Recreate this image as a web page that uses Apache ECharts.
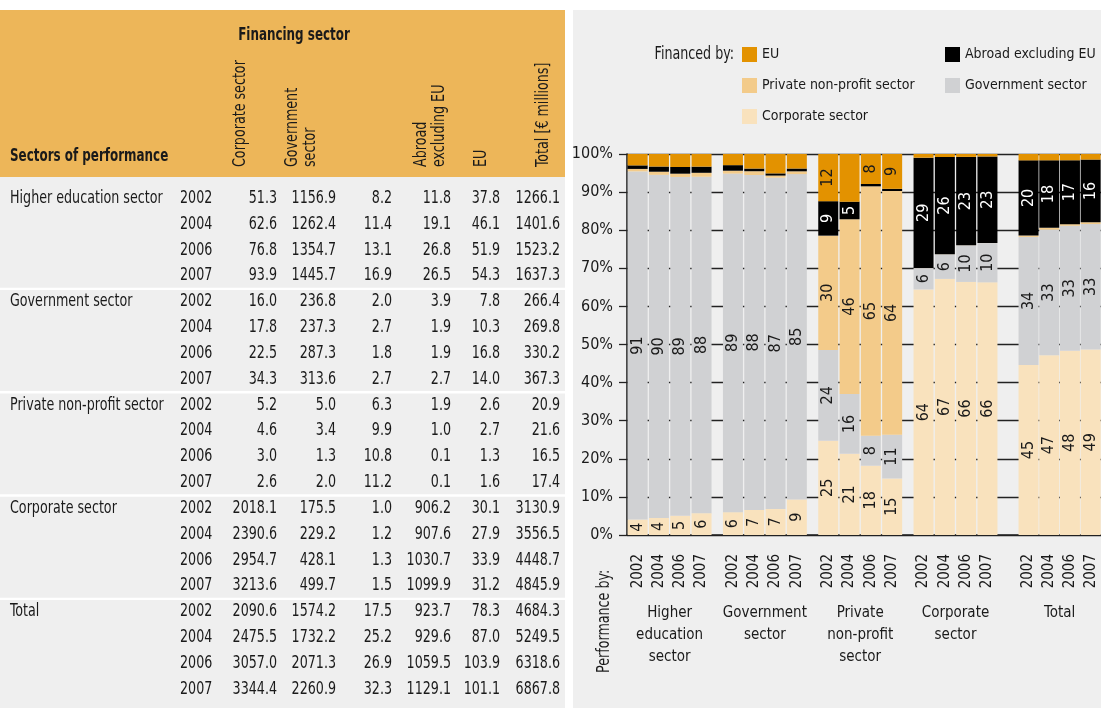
<!DOCTYPE html>
<html>
<head>
<meta charset="utf-8">
<title>R&D financing</title>
<script src="https://cdn.jsdelivr.net/npm/echarts@6/dist/echarts.min.js"></script>
<style>
	html, body { margin: 0; padding: 0; background: #fff; }
	#main { width: 1101px; height: 708px; }
</style>
</head>
<body>
<div id="main"></div>
<script>
// sectors of performance and years (table rows, chart groups)
var sectors = ['Higher education sector', 'Government sector', 'Private non-profit sector', 'Corporate sector', 'Total'];
var sectorAxisNames = ['Higher\neducation\nsector', 'Government\nsector', 'Private\nnon-profit\nsector', 'Corporate\nsector', 'Total'];
var years = ['2002', '2004', '2006', '2007'];

// financing sector values, € millions, 4 years per sector of performance
var corporate = [51.3, 62.6, 76.8, 93.9, 16.0, 17.8, 22.5, 34.3, 5.2, 4.6, 3.0, 2.6,
	2018.1, 2390.6, 2954.7, 3213.6, 2090.6, 2475.5, 3057.0, 3344.4];
var government = [1156.9, 1262.4, 1354.7, 1445.7, 236.8, 237.3, 287.3, 313.6, 5.0, 3.4, 1.3, 2.0,
	175.5, 229.2, 428.1, 499.7, 1574.2, 1732.2, 2071.3, 2260.9];
var privateNonProfit = [8.2, 11.4, 13.1, 16.9, 2.0, 2.7, 1.8, 2.7, 6.3, 9.9, 10.8, 11.2,
	1.0, 1.2, 1.3, 1.5, 17.5, 25.2, 26.9, 32.3];
var abroadExclEU = [11.8, 19.1, 26.8, 26.5, 3.9, 1.9, 1.9, 2.7, 1.9, 1.0, 0.1, 0.1,
	906.2, 907.6, 1030.7, 1099.9, 923.7, 929.6, 1059.5, 1129.1];
var eu = [37.8, 46.1, 51.9, 54.3, 7.8, 10.3, 16.8, 14.0, 2.6, 2.7, 1.3, 1.6,
	30.1, 27.9, 33.9, 31.2, 78.3, 87.0, 103.9, 101.1];
var total = [1266.1, 1401.6, 1523.2, 1637.3, 266.4, 269.8, 330.2, 367.3, 20.9, 21.6, 16.5, 17.4,
	3130.9, 3556.5, 4448.7, 4845.9, 4684.3, 5249.5, 6318.6, 6867.8];

var yTicks = ['0%', '10%', '20%', '30%', '40%', '50%', '60%', '70%', '80%', '90%', '100%'];

// labels left out in the source chart (EU: government 2006, private non-profit 2004)
var unlabeled = [['EU', 6], ['EU', 9]];

var FONT = "'DejaVu Sans Condensed', 'DejaVu Sans', sans-serif";
var INK = '#1a1a1a';

var chart = echarts.init(document.getElementById('main'));

// chart layout: one narrow grid per sector of performance over a shared background grid
var plotLeft = 627, plotTop = 154, plotH = 381, slot = 21.3;
function groupLeft(g) {
	return plotLeft + g * 95.3 + (g === 4 ? 10 : 0);
}

var sums = corporate.map(function(v, i) {
	return v + government[i] + privateNonProfit[i] + abroadExclEU[i] + eu[i];
});
function share(arr) {
	return arr.map(function(v, i) { return v / sums[i] * 100; });
}

// stacking order bottom -> top
var financing = [
	['Corporate sector', corporate, '#f9e2bd', INK],
	['Government sector', government, '#d0d1d3', INK],
	['Private non-profit sector', privateNonProfit, '#f3cb8a', INK],
	['Abroad excluding EU', abroadExclEU, '#000000', '#ffffff'],
	['EU', eu, '#e39200', INK]
];

// ---- table, drawn with graphic elements ----
var graphics = [];
graphics.push({ type: 'rect', z: -100, shape: { x: 0, y: 10, width: 565, height: 698 }, style: { fill: '#efefef' } });
graphics.push({ type: 'rect', z: -99, shape: { x: 0, y: 10, width: 565, height: 167 }, style: { fill: '#edb659' } });
graphics.push({ type: 'rect', z: -100, shape: { x: 573, y: 10, width: 528, height: 698 }, style: { fill: '#efefef' } });

var rowTop = 198.5, rowH = 25.83;
for (var s = 1; s < sectors.length; s++) {
	var ly = rowTop + (s * 4 - 0.5) * rowH;
	graphics.push({ type: 'rect', z: -98, shape: { x: 0, y: ly - 1.2, width: 565, height: 2.4 }, style: { fill: '#fff' } });
}

// the source face is a narrow one, squeeze the condensed fallback a bit
function txt(text, x, y, opts) {
	opts = opts || {};
	return {
		type: 'text', z: 100, x: x, y: y, rotation: opts.rotation || 0,
		scaleX: opts.bold ? 0.78 : 0.83,
		style: {
			text: text, fill: INK, font: (opts.bold ? 'bold ' : '') + (opts.size || 17) + 'px ' + FONT,
			align: opts.align || 'left', verticalAlign: opts.va || 'middle', lineHeight: opts.lineHeight
		}
	};
}

graphics.push(txt('Financing sector', 294, 36, { bold: true, align: 'center' }));
graphics.push(txt('Sectors of performance', 10, 157, { bold: true }));
var heads = [['Corporate sector', 241], ['Government\nsector', 302], ['Abroad\nexcluding EU', 431], ['EU', 482], ['Total [€ millions]', 544]];
heads.forEach(function(h) {
	graphics.push(txt(h[0], h[1], 167, { rotation: Math.PI / 2, lineHeight: 18 }));
});

var cols = [corporate, government, privateNonProfit, abroadExclEU, eu, total];
var colRight = [277, 336, 392, 451, 500, 560];
for (var r = 0; r < corporate.length; r++) {
	var y = rowTop + r * rowH;
	if (r % 4 === 0) graphics.push(txt(sectors[r / 4], 10, y));
	graphics.push(txt(years[r % 4], 180, y));
	cols.forEach(function(c, ci) {
		graphics.push(txt(c[r].toFixed(1), colRight[ci], y, { align: 'right' }));
	});
}

graphics.push(txt('Financed by:', 734, 55, { align: 'right' }));
graphics.push(txt('Performance by:', 605, 673, { rotation: Math.PI / 2 }));

// ---- chart ----
var grids = [{ left: plotLeft, top: plotTop, width: 480, height: plotH }];
var xAxes = [{
	type: 'value', gridIndex: 0, min: 0, max: 1,
	axisLine: { show: true, lineStyle: { color: '#222', width: 1.5 } },
	axisTick: { show: false }, axisLabel: { show: false }, splitLine: { show: false }
}];
var yAxes = [{
	type: 'value', gridIndex: 0, min: 0, max: 100, interval: 10,
	axisLine: { show: true, lineStyle: { color: '#111', width: 1.5 } },
	axisTick: { show: true, length: 8, lineStyle: { color: '#222', width: 1.3 } },
	splitLine: { lineStyle: { color: '#222', width: 1.3 } },
	axisLabel: {
		fontFamily: FONT, fontSize: 16, color: INK, margin: 14,
		formatter: function(v) { return yTicks[v / 10]; }
	}
}];
var series = [];

sectors.forEach(function(name, g) {
	var gi = g + 1;
	grids.push({ left: groupLeft(g), top: plotTop, width: slot * 4, height: plotH });
	xAxes.push({
		type: 'category', gridIndex: gi, data: years,
		axisLine: { show: false }, axisTick: { show: false }, splitLine: { show: false },
		axisLabel: { rotate: 90, margin: 19, fontFamily: FONT, fontSize: 15, color: INK },
		name: sectorAxisNames[g], nameLocation: 'middle', nameGap: 67,
		nameTextStyle: { fontFamily: FONT, fontSize: 15, lineHeight: 22, color: INK, verticalAlign: 'top' }
	});
	yAxes.push({ type: 'value', gridIndex: gi, min: 0, max: 100, show: false });

	financing.forEach(function(f) {
		series.push({
			name: f[0],
			type: 'bar',
			xAxisIndex: gi,
			yAxisIndex: gi,
			stack: 'g' + g,
			barWidth: 20,
			data: share(f[1]).slice(g * 4, g * 4 + 4),
			itemStyle: { color: f[2] },
			label: {
				show: true,
				position: 'inside',
				rotate: 90,
				fontFamily: FONT,
				fontSize: 16,
				color: f[3],
				formatter: function(p) {
					var idx = g * 4 + p.dataIndex;
					for (var j = 0; j < unlabeled.length; j++) {
						if (unlabeled[j][0] === f[0] && unlabeled[j][1] === idx) return '';
					}
					return p.value < 4 ? '' : Math.round(p.value);
				}
			}
		});
	});
});

var legendBase = {
	orient: 'vertical', top: 47, padding: 0,
	icon: 'rect', itemWidth: 15, itemHeight: 15, itemGap: 16,
	textStyle: { fontFamily: FONT, fontSize: 14, color: INK },
	selectedMode: false
};

var option = {
	animation: false,
	textStyle: { fontFamily: FONT },
	graphic: graphics,
	legend: [
		Object.assign({ data: ['EU', 'Private non-profit sector', 'Corporate sector'], left: 742 }, legendBase),
		Object.assign({ data: ['Abroad excluding EU', 'Government sector'], left: 945 }, legendBase)
	],
	grid: grids,
	xAxis: xAxes,
	yAxis: yAxes,
	series: series
};

chart.setOption(option);
</script>
</body>
</html>
